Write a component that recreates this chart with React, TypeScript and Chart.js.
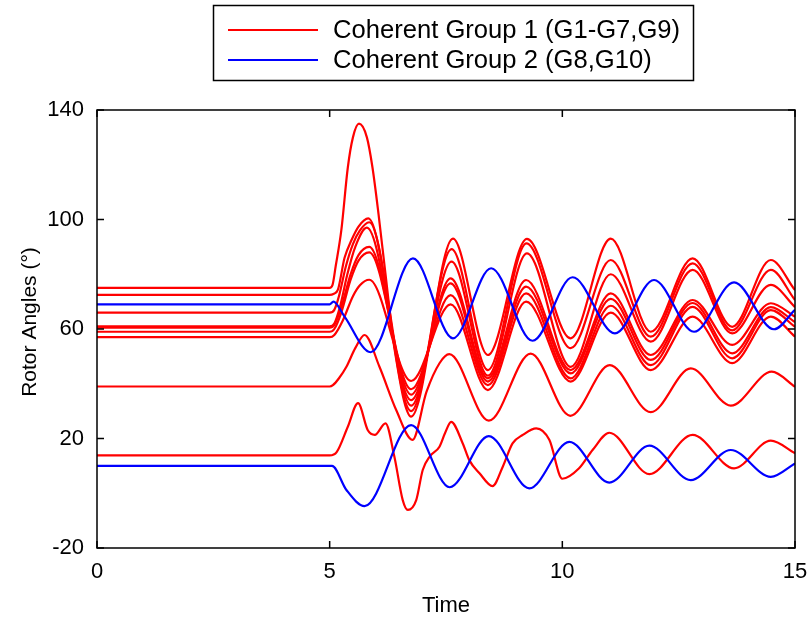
import React, { useEffect, useRef } from 'react';
import { Chart, registerables } from 'chart.js';

Chart.register(...registerables);

// ---- axis ticks ----
const xTicks = [0, 5, 10, 15];
const yTicks = [-20, 20, 60, 100, 140];
const xTitle = 'Time';
const yTitle = 'Rotor Angles (\u00B0)';
const legendLabels = ['Coherent Group 1 (G1-G7,G9)', 'Coherent Group 2 (G8,G10)'];

// ---- Coherent Group 1 (red) ----
const g1aT = [0, 5.0, 5.06, 5.13, 5.25, 5.39, 5.5, 5.63, 5.8, 5.92, 6.05, 6.2, 6.4, 6.75, 7.65, 8.4, 9.24, 10.18, 11.04, 11.9, 12.8, 13.65, 14.48, 15];
const g1aV = [75, 75, 76, 83, 96, 119, 130, 135, 130, 119, 102, 80, 52, 28, 93, 50.5, 92.9, 56.6, 93, 59, 85.8, 60.8, 85.2, 74.2];

const g1bT = [0, 5.0, 5.08, 5.18, 5.32, 5.47, 5.62, 5.83, 6.75, 7.62, 8.4, 9.23, 10.18, 11.04, 11.9, 12.8, 13.65, 14.48, 15];
const g1bV = [72.5, 72.5, 72.8, 74.5, 86, 92.5, 97.4, 100.4, 30, 89.2, 45, 91.3, 53, 85.2, 57.2, 84, 59.5, 81.6, 70.6];

const g1cT = [0, 5.0, 5.1, 5.2, 5.35, 5.5, 5.65, 5.85, 6.75, 7.62, 8.4, 9.24, 10.18, 11.04, 11.9, 12.8, 13.65, 14.48, 15];
const g1cV = [66, 66, 67, 72, 83, 91, 96, 99, 32, 84.6, 43, 87.6, 46.2, 80, 55.4, 81.6, 58.4, 76.1, 68];

const g1dT = [0, 5.0, 5.1, 5.22, 5.38, 5.55, 5.8, 6.75, 7.6, 8.4, 9.22, 10.18, 11.04, 11.9, 12.8, 13.65, 14.48, 15];
const g1dV = [61, 61, 62, 68, 80, 90, 97, 34, 78.5, 42, 77.9, 45, 73, 50.5, 70.6, 54.2, 69.4, 64.5];

const g1eT = [0, 5.0, 5.1, 5.25, 5.45, 5.62, 5.85, 6.75, 7.6, 8.4, 9.22, 10.18, 11.04, 11.9, 12.8, 13.65, 14.48, 15];
const g1eV = [60.5, 60.5, 61.5, 68, 80, 87, 90, 36, 76.7, 40.8, 75.5, 43.8, 71, 48.7, 69.5, 51.1, 68, 62.5];

const g1fT = [0, 5.0, 5.1, 5.25, 5.45, 5.62, 5.85, 6.75, 7.6, 8.4, 9.22, 10.18, 11.04, 11.9, 12.8, 13.65, 14.48, 15];
const g1fV = [59, 59, 60, 66, 78, 85, 88, 38, 72.4, 39.5, 73, 42, 68.5, 46.8, 68.1, 49.3, 66.9, 60.8];

const g1gT = [0, 5.0, 5.1, 5.28, 5.5, 5.65, 5.85, 6.75, 7.6, 8.4, 9.22, 10.18, 11.04, 11.9, 12.8, 13.65, 14.48, 15];
const g1gV = [57, 57, 57.8, 63, 72, 76, 78, 41, 69, 37.7, 70, 40.8, 66, 45, 64.5, 47.5, 64.5, 57.2];

const g1hT = [0, 5.0, 5.07, 5.2, 5.36, 5.55, 5.75, 6.07, 6.43, 6.78, 7.08, 7.36, 7.57, 8.42, 9.32, 10.17, 11.02, 11.9, 12.76, 13.62, 14.5, 15];
const g1hV = [39, 39, 39.5, 42, 46.2, 53, 57.8, 46.2, 30.4, 19.5, 37, 47.5, 50.8, 26.5, 51, 28.3, 46.8, 29.6, 45.6, 32, 44.4, 38.9];

const g1iT = [0, 5.0, 5.15, 5.39, 5.61, 5.82, 5.97, 6.2, 6.39, 6.57, 6.68, 6.86, 7.0, 7.15, 7.36, 7.48, 7.61, 7.86, 8.0, 8.22, 8.5, 8.72, 8.93, 9.15, 9.44, 9.72, 10.0, 10.36, 10.65, 11.01, 11.87, 12.8, 13.69, 14.48, 15];
const g1iV = [13.8, 13.8, 15, 24.3, 32.9, 23, 21.3, 25.5, 13.4, -2.5, -6.1, -2.5, 8.5, 13.4, 17, 22, 26.1, 18.2, 12.1, 7.3, 2.6, 9.7, 18.2, 21.3, 23.7, 19.5, 5.3, 9.1, 15.8, 22.1, 7.0, 21.3, 9.1, 19.2, 14.6];

// ---- Coherent Group 2 (blue) ----
const g2aT = [0, 5.0, 5.08, 5.32, 5.88, 6.79, 7.65, 8.47, 9.36, 10.22, 11.13, 11.97, 12.83, 13.69, 14.55, 15];
const g2aV = [69, 69, 70, 64.5, 51.5, 85.8, 56.6, 82.2, 55.7, 78.9, 58.4, 77.9, 59, 77, 59.9, 67];

const g2bT = [0, 5.0, 5.05, 5.36, 5.75, 6.75, 7.58, 8.42, 9.29, 10.15, 11.01, 11.87, 12.76, 13.62, 14.48, 15];
const g2bV = [10, 10, 10, 1.2, -4.7, 24.9, 2.2, 20.9, 1.8, 18.8, 3.9, 17.4, 4.8, 15.8, 6.0, 10.9];

const group1 = [
  [g1aT, g1aV], [g1bT, g1bV], [g1cT, g1cV], [g1dT, g1dV], [g1eT, g1eV],
  [g1fT, g1fV], [g1gT, g1gV], [g1hT, g1hV], [g1iT, g1iV],
];
const group2 = [[g2aT, g2aV], [g2bT, g2bV]];

const RED = '#ff0000';
const BLUE = '#0000ff';
const FONT = '"Liberation Sans", Arial, Helvetica, sans-serif';
const AXIS_FONT_SIZE = 22;
const YTITLE_FONT_SIZE = 21;
const LEGEND_FONT_SIZE = 25.6;

const toPts = (t: number[], v: number[]) => t.map((x, i) => ({ x, y: v[i] }));

const framePlugin = {
  id: 'matlabFrame',
  afterDatasetsDraw(chart: any) {
    const { ctx, chartArea } = chart;
    const { left, right, top, bottom } = chartArea;
    const xs = chart.scales.x;
    const ys = chart.scales.y;
    ctx.save();
    ctx.strokeStyle = '#000';
    ctx.lineWidth = 1.5;
    ctx.strokeRect(left, top, right - left, bottom - top);
    const tl = 7;
    ctx.beginPath();
    xTicks.forEach((v) => {
      const px = xs.getPixelForValue(v);
      ctx.moveTo(px, bottom); ctx.lineTo(px, bottom - tl);
      ctx.moveTo(px, top); ctx.lineTo(px, top + tl);
    });
    yTicks.forEach((v) => {
      const py = ys.getPixelForValue(v);
      ctx.moveTo(left, py); ctx.lineTo(left + tl, py);
      ctx.moveTo(right, py); ctx.lineTo(right - tl, py);
    });
    ctx.stroke();

    // axis titles
    ctx.fillStyle = '#000';
    ctx.font = `${AXIS_FONT_SIZE}px ${FONT}`;
    ctx.textAlign = 'center';
    ctx.textBaseline = 'middle';
    ctx.fillText(xTitle, (left + right) / 2, 606);
    ctx.save();
    ctx.font = `${YTITLE_FONT_SIZE}px ${FONT}`;
    ctx.translate(30, 322);
    ctx.rotate(-Math.PI / 2);
    ctx.fillText(yTitle, 0, 0);
    ctx.restore();

    // legend
    const bx = 213.5, by = 5.5, bw = 480, bh = 75;
    ctx.fillStyle = '#fff';
    ctx.fillRect(bx, by, bw, bh);
    ctx.lineWidth = 1.5;
    ctx.strokeStyle = '#000';
    ctx.strokeRect(bx, by, bw, bh);
    const rows = [30, 60];
    const cols = [RED, BLUE];
    ctx.font = `${LEGEND_FONT_SIZE}px ${FONT}`;
    ctx.textAlign = 'left';
    ctx.textBaseline = 'middle';
    rows.forEach((ry, i) => {
      ctx.strokeStyle = cols[i];
      ctx.lineWidth = 2.2;
      ctx.beginPath();
      ctx.moveTo(228, ry);
      ctx.lineTo(318, ry);
      ctx.stroke();
      ctx.fillStyle = '#000';
      ctx.fillText(legendLabels[i], 333, ry + 1);
    });
    ctx.restore();
  },
};

export default function App() {
  const ref = useRef<HTMLCanvasElement | null>(null);
  useEffect(() => {
    if (!ref.current) return;
    const datasets: any[] = [];
    group2.forEach(([t, v]) => {
      datasets.push({
        data: toPts(t, v), borderColor: BLUE, borderWidth: 2.2, pointRadius: 0,
        cubicInterpolationMode: 'monotone', fill: false, order: 0,
      });
    });
    group1.forEach(([t, v]) => {
      datasets.push({
        data: toPts(t, v), borderColor: RED, borderWidth: 2.2, pointRadius: 0,
        cubicInterpolationMode: 'monotone', fill: false, order: 1,
      });
    });
    const chart = new Chart(ref.current, {
      type: 'line',
      data: { datasets },
      options: {
        animation: false,
        responsive: false,
        devicePixelRatio: 1,
        layout: { padding: { top: 110, right: 15, left: 0, bottom: 0 } },
        plugins: { legend: { display: false }, tooltip: { enabled: false }, title: { display: false } },
        scales: {
          x: {
            type: 'linear', min: 0, max: 15,
            grid: { display: false, drawTicks: false },
            border: { display: false },
            afterBuildTicks: (s: any) => { s.ticks = xTicks.map((value) => ({ value })); },
            afterFit: (s: any) => {
              s.height = 73;
              s.paddingLeft = 0; s.paddingRight = 0; s.paddingTop = 0; s.paddingBottom = 0;
            },
            ticks: { color: '#000', padding: 11, font: { family: FONT, size: AXIS_FONT_SIZE }, maxRotation: 0, autoSkip: false },
          },
          y: {
            type: 'linear', min: -20, max: 140,
            grid: { display: false, drawTicks: false },
            border: { display: false },
            afterBuildTicks: (s: any) => { s.ticks = yTicks.map((value) => ({ value })); },
            afterFit: (s: any) => {
              s.width = 97;
              s.paddingLeft = 0; s.paddingRight = 0; s.paddingTop = 0; s.paddingBottom = 0;
            },
            ticks: { color: '#000', padding: 13, font: { family: FONT, size: AXIS_FONT_SIZE }, autoSkip: false },
          },
        },
      },
      plugins: [framePlugin],
    });
    return () => chart.destroy();
  }, []);
  return (
    <div style={{ position: 'absolute', left: 0, top: 0, width: 810, height: 621, background: '#fff' }}>
      <canvas ref={ref} width={810} height={621} style={{ width: 810, height: 621, display: 'block' }} />
    </div>
  );
}
